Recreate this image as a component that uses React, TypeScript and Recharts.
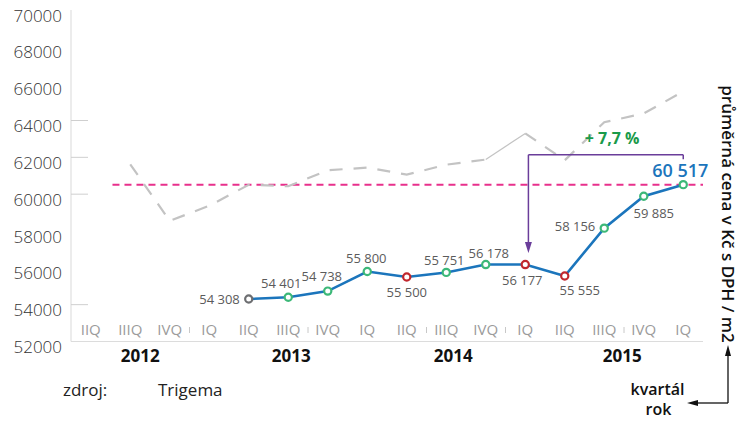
import React from "react";
import {
  LineChart,
  Line,
  XAxis,
  YAxis,
  ReferenceLine,
  ReferenceDot,
  LabelList,
} from "recharts";

// x axis categories (as printed in the source, incl. its odd grouping)
const quarters = [
  "IIQ", "IIIQ", "IVQ", "IQ", "IIQ", "IIIQ", "IVQ", "IQ",
  "IIQ", "IIIQ", "IVQ", "IQ", "IIQ", "IIIQ", "IVQ", "IQ",
];
const years = ["2012", "2013", "2014", "2015"];

// grey dashed line - market average
const marketAvg = [
  null, 61620, 58550, 59370, 60510, 60430, 61300, 61440,
  61060, 61600, 61880, 63300, 61840, 63910, 64380, 65580,
];
// blue line - Trigema
const trigema = [
  null, null, null, null, 54308, 54401, 54738, 55800,
  55500, 55751, 56178, 56177, 55555, 58156, 59885, 60517,
];

const yTicks = [52000, 54000, 56000, 58000, 60000, 62000, 64000, 66000, 68000, 70000];
const growthLabel = "+ 7,7 %";

const FONT = "'Open Sans', 'DejaVu Sans', sans-serif";
const BLUE = "#1b75bc";
const GREY = "#c3c3c3";
const PINK = "#e8308c";
const PURPLE = "#6a3d9a";
const GREEN = "#3cb878";
const RED = "#c1272d";

// the market line has one solid thin segment (between IVQ 2014 and IQ 2015)
const SOLID_FROM = 10;

const data = quarters.map((q, i) => ({
  i,
  q,
  greyA: i <= SOLID_FROM ? marketAvg[i] : null,
  greyB: i === SOLID_FROM || i === SOLID_FROM + 1 ? marketAvg[i] : null,
  greyC: i >= SOLID_FROM + 1 ? marketAvg[i] : null,
  price: trigema[i],
}));

const lastIdx = trigema.length - 1;
const lastValue = trigema[lastIdx] as number;

// layout bits for the x axis
const separatorsAfter = [2, 5, 8, 10, 13];
const yearAnchor = [1, 5, 9, 13];
const yearDx = [10, 3, 7, 18];
const shortYTicks = [64000, 62000, 60000, 54000];

// label placement: [dx, dy, anchor]
const labelPos: Record<number, [number, number, string]> = {
  4: [-9, 0, "end"],
  5: [-7, -14, "middle"],
  6: [-6, -15, "middle"],
  7: [-1, -14, "middle"],
  8: [0, 14.5, "middle"],
  9: [-2, -12, "middle"],
  10: [3, -12, "middle"],
  11: [-3, 15.5, "middle"],
  12: [15, 13.5, "middle"],
  13: [-9, -2, "end"],
  14: [10, 17, "middle"],
  15: [-3, -15, "middle"],
};

const fmt = (v: number) => `${Math.floor(v / 1000)} ${String(v % 1000).padStart(3, "0")}`;

const XTick = (props: any) => {
  const { x, y, payload } = props;
  const i = payload.value as number;
  const step = 39.5;
  const yi = yearAnchor.indexOf(i);
  return (
    <g>
      <text
        x={x}
        y={y - 6.5}
        textAnchor="middle"
        fontFamily={FONT}
        fontSize={15}
        fill="#9b9b9b"
      >
        {quarters[i]}
      </text>
      {separatorsAfter.includes(i) && (
        <line x1={x + step / 2} x2={x + step / 2} y1={y - 14.5} y2={y - 8.5} stroke="#c8c8c8" />
      )}
      {yi >= 0 && (
        <text
          x={x + yearDx[yi]}
          y={y + 20.5}
          textAnchor="middle"
          fontFamily={FONT}
          fontSize={17}
          fontWeight={700}
          fill="#111"
        >
          {years[yi]}
        </text>
      )}
    </g>
  );
};

const YTick = (props: any) => {
  const { x, y, payload } = props;
  return (
    <g>
      {shortYTicks.includes(payload.value) && (
        <line x1={x} x2={x + 17} y1={y} y2={y} stroke="#cfcfcf" />
      )}
      <text
        x={x - 9}
        y={y + 5}
        textAnchor="end"
        dominantBaseline="central"
        fontFamily={FONT}
        fontSize={17}
        fontWeight={300}
        fill="#333"
      >
        {payload.value}
      </text>
    </g>
  );
};

const Marker = (props: any) => {
  const { cx, cy, index, value } = props;
  if (value == null || cx == null) return <g key={`m-${index}`} />;
  const prev = trigema[index - 1];
  const color = prev == null ? "#6d6e71" : value >= prev ? GREEN : RED;
  return (
    <circle
      key={`m-${index}`}
      cx={cx}
      cy={cy}
      r={3.6}
      fill="#fff"
      stroke={color}
      strokeWidth={2.2}
    />
  );
};

const ValueLabel = (props: any) => {
  const { x, y, value, index } = props;
  if (value == null) return null;
  const pos = labelPos[index];
  if (!pos) return null;
  const isLast = index === lastIdx;
  return (
    <text
      x={x + pos[0]}
      y={y + pos[1]}
      textAnchor={pos[2] as any}
      dominantBaseline="central"
      fontFamily={FONT}
      fontSize={isLast ? 18 : 13}
      fontWeight={isLast ? 600 : 400}
      fill={isLast ? BLUE : "#5b5b5b"}
    >
      {fmt(value)}
    </text>
  );
};

const ArrowHead = (props: any) => {
  const { cx, cy } = props;
  return (
    <polygon
      points={`${cx - 3.5},${cy - 11} ${cx + 3.5},${cy - 11} ${cx},${cy}`}
      fill={PURPLE}
    />
  );
};

const GrowthText = (props: any) => {
  const { cx, cy } = props;
  return (
    <text
      x={cx}
      y={cy}
      textAnchor="middle"
      dominantBaseline="central"
      fontFamily={FONT}
      fontSize={16}
      fontWeight={700}
      fill="#1a9a4a"
    >
      {growthLabel}
    </text>
  );
};

const BRACKET_Y = 62140;
const ARROW_X = 11.08;

export default function App() {
  return (
    <div
      style={{
        position: "absolute",
        left: 0,
        top: 0,
        width: 746,
        height: 425,
        background: "#fff",
        fontFamily: FONT,
      }}
    >
      <LineChart
        width={746}
        height={425}
        data={data}
        margin={{ top: 10, right: 43, bottom: 53.5, left: 0 }}
      >
        <XAxis
          dataKey="i"
          type="number"
          domain={[-0.5, 15.5]}
          ticks={quarters.map((_, i) => i)}
          interval={0}
          tick={<XTick />}
          tickLine={false}
          tickSize={0}
          tickMargin={0}
          axisLine={{ stroke: "#dcdcdc" }}
          height={30}
        />
        <YAxis
          domain={[52000, 70000]}
          ticks={yTicks}
          interval={0}
          tick={<YTick />}
          tickLine={false}
          tickSize={0}
          tickMargin={0}
          axisLine={{ stroke: "#d9d9d9" }}
          width={71}
        />
        <ReferenceLine
          segment={[
            { x: 0.55, y: lastValue },
            { x: 15.5, y: lastValue },
          ]}
          stroke={PINK}
          strokeWidth={2}
          strokeDasharray="7 5"
        />
        <Line
          dataKey="greyA"
          stroke={GREY}
          strokeWidth={2.2}
          strokeDasharray="13 11"
          dot={false}
          activeDot={false}
          isAnimationActive={false}
        />
        <Line
          dataKey="greyB"
          stroke={GREY}
          strokeWidth={1.2}
          dot={false}
          activeDot={false}
          isAnimationActive={false}
        />
        <Line
          dataKey="greyC"
          stroke={GREY}
          strokeWidth={2.2}
          strokeDasharray="13 11"
          dot={false}
          activeDot={false}
          isAnimationActive={false}
        />
        <ReferenceLine
          segment={[
            { x: ARROW_X, y: BRACKET_Y },
            { x: lastIdx, y: BRACKET_Y },
          ]}
          stroke={PURPLE}
          strokeWidth={1.5}
        />
        <ReferenceLine
          segment={[
            { x: lastIdx, y: BRACKET_Y },
            { x: lastIdx, y: 61890 },
          ]}
          stroke={PURPLE}
          strokeWidth={1.5}
        />
        <ReferenceLine
          segment={[
            { x: ARROW_X, y: BRACKET_Y },
            { x: ARROW_X, y: 57300 },
          ]}
          stroke={PURPLE}
          strokeWidth={1.5}
        />
        <ReferenceDot x={ARROW_X} y={56800} shape={ArrowHead} />
        <ReferenceDot x={13.2} y={63030} shape={GrowthText} />
        <Line
          dataKey="price"
          stroke={BLUE}
          strokeWidth={2.6}
          dot={Marker}
          activeDot={false}
          isAnimationActive={false}
        >
          <LabelList dataKey="price" content={<ValueLabel />} />
        </Line>
      </LineChart>

      <svg
        width={746}
        height={425}
        style={{ position: "absolute", left: 0, top: 0, pointerEvents: "none" }}
      >
        <text
          transform="translate(728,214) rotate(90)"
          textAnchor="middle"
          dominantBaseline="central"
          fontFamily={FONT}
          fontSize={17}
          fontWeight={600}
          fill="#111"
        >
          průměrná cena v Kč s DPH / m2
        </text>
        <line x1={728} y1={354} x2={728} y2={403} stroke="#111" strokeWidth={1.3} />
        <polygon points="728,345 725,356 731,356" fill="#111" />
        <line x1={728} y1={403} x2={696} y2={403} stroke="#111" strokeWidth={1.3} />
        <polygon points="687,403 698,400 698,406" fill="#111" />
        <text x={657.5} y={395} textAnchor="middle" fontFamily={FONT} fontSize={16} fontWeight={600} fill="#111">
          kvartál
        </text>
        <text x={658.5} y={415} textAnchor="middle" fontFamily={FONT} fontSize={16} fontWeight={600} fill="#111">
          rok
        </text>
        <text x={63} y={396} fontFamily={FONT} fontSize={17} fill="#222">
          zdroj:
        </text>
        <text x={158} y={396} fontFamily={FONT} fontSize={17} fill="#222">
          Trigema
        </text>
      </svg>
    </div>
  );
}
